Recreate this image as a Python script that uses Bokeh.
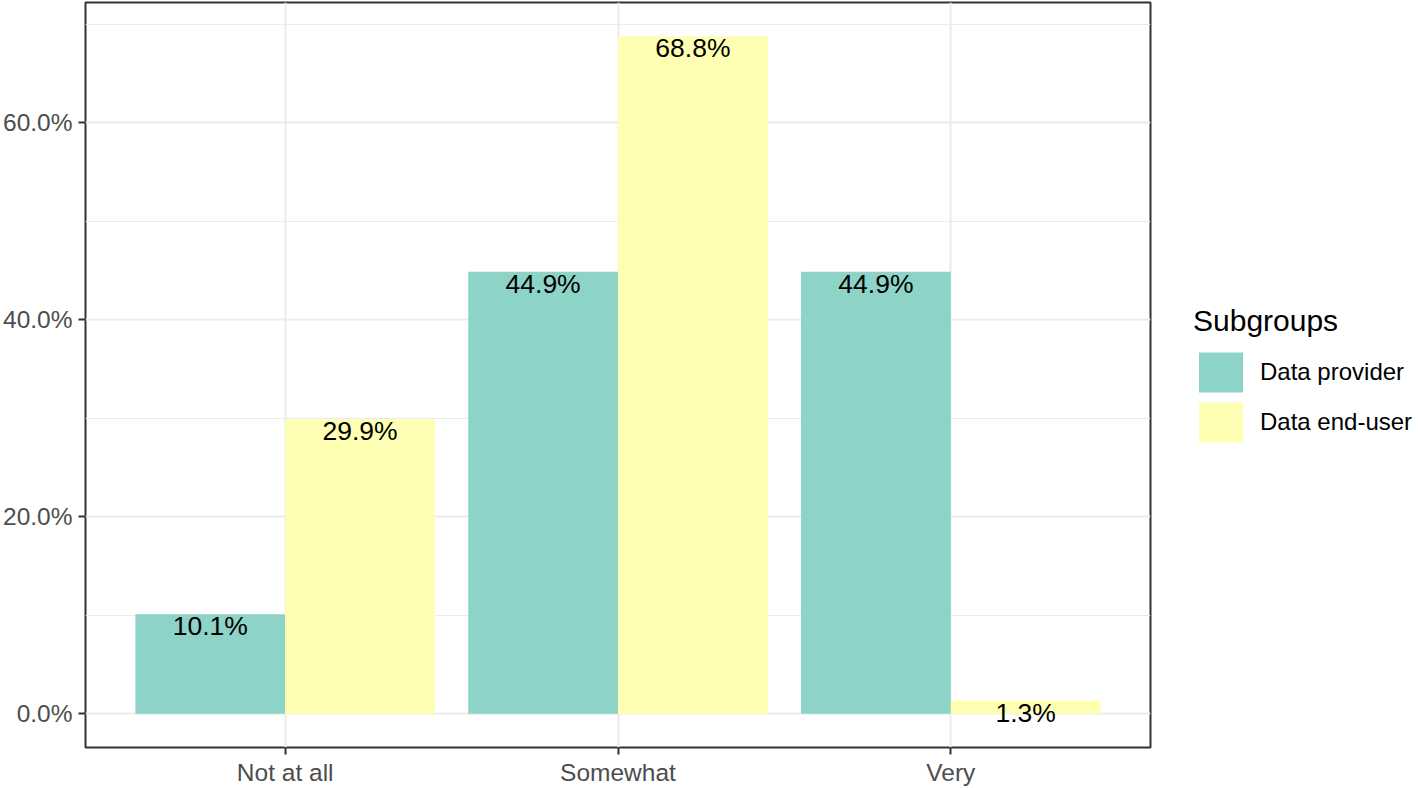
from bokeh.plotting import figure
from bokeh.layouts import row
from bokeh.models import (FactorRange, Range1d, FixedTicker, PrintfTickFormatter,
                          ColumnDataSource, Legend, LegendItem)
from bokeh.transform import dodge
from bokeh.core.properties import value
from bokeh.embed import file_html
from bokeh.resources import INLINE

categories = ["Not at all", "Somewhat", "Very"]
provider = [10.1, 44.9, 44.9]
end_user = [29.9, 68.8, 1.3]
series_names = ["Data provider", "Data end-user"]
colors = ["#8DD3C7", "#FFFFB3"]
y_ticks = [0, 20, 40, 60]
y_minor = [10, 30, 50, 70]

FONT = "Liberation Sans"

src = ColumnDataSource(dict(
    cat=categories,
    provider=provider,
    end_user=end_user,
    provider_lab=[f"{v:.1f}%" for v in provider],
    end_user_lab=[f"{v:.1f}%" for v in end_user],
))

ymax = max(provider + end_user)
pad = ymax * 0.05

FW, FH = 1065, 745
TOP, BOTTOM = 2, 39
p = figure(
    x_range=FactorRange(*categories, range_padding=0.1, range_padding_units="absolute"),
    y_range=Range1d(-pad, ymax + pad),
    frame_width=FW, frame_height=FH,
    min_border_left=82, min_border_right=2, min_border_top=TOP, min_border_bottom=BOTTOM,
    output_backend="svg", toolbar_location=None,
    background_fill_color="white", border_fill_color="white",
)

bw = 0.45
p.vbar(x=dodge("cat", -bw / 2, range=p.x_range), top="provider", width=bw,
       source=src, fill_color=colors[0], line_color=None)
p.vbar(x=dodge("cat", bw / 2, range=p.x_range), top="end_user", width=bw,
       source=src, fill_color=colors[1], line_color=None)

for col, off in (("provider", -bw / 2), ("end_user", bw / 2)):
    p.text(x=dodge("cat", off, range=p.x_range), y=col, text=col + "_lab", source=src,
           text_align="center", text_baseline="top", y_offset=-3,
           text_font=value(FONT), text_font_size="26.5px", text_color="black")

# grids
p.ygrid.ticker = FixedTicker(ticks=y_ticks, minor_ticks=y_minor)
p.ygrid.grid_line_color = "#EBEBEB"
p.ygrid.grid_line_width = 2
p.ygrid.minor_grid_line_color = "#EBEBEB"
p.ygrid.minor_grid_line_width = 1
p.xgrid.grid_line_color = "#EBEBEB"
p.xgrid.grid_line_width = 2

# axes
p.yaxis.ticker = FixedTicker(ticks=y_ticks)
p.yaxis.formatter = PrintfTickFormatter(format="%.1f%%")
for ax in (p.xaxis[0], p.yaxis[0]):
    ax.axis_line_color = None
    ax.major_tick_line_color = "#333333"
    ax.major_tick_line_width = 2
    ax.major_tick_out = 7
    ax.major_tick_in = 0
    ax.minor_tick_line_color = None
    ax.major_label_text_font = FONT
    ax.major_label_text_font_size = "24.5px"
    ax.major_label_text_color = "#4D4D4D"
p.yaxis.major_label_standoff = 6
p.xaxis.major_label_standoff = 4

p.outline_line_color = "#333333"
p.outline_line_width = 2

# legend figure placed to the right of the panel
LW = 262
LH = FH + TOP + BOTTOM
q = figure(width=LW, height=LH, x_range=Range1d(0, 1), y_range=Range1d(0, 1),
           min_border=0, output_backend="svg", toolbar_location=None,
           outline_line_color=None, background_fill_color="white",
           border_fill_color="white")
q.axis.visible = False
q.grid.visible = False
# zero-height key carriers (draw nothing themselves)
k1 = q.vbar(x=[0.5], top=[0], width=0.1, fill_color=colors[0], line_color=None)
k2 = q.vbar(x=[0.5], top=[0], width=0.1, fill_color=colors[1], line_color=None)

legend = Legend(
    items=[LegendItem(label=series_names[0], renderers=[k1]),
           LegendItem(label=series_names[1], renderers=[k2])],
    title="Subgroups", location=(41, LH - 443 - 45),
    title_text_font=FONT, title_text_font_size="30px", title_text_color="black",
    title_text_font_style="normal", title_standoff=9,
    label_text_font=FONT, label_text_font_size="24px", label_text_color="black",
    glyph_width=55, glyph_height=50, label_height=50, spacing=0, label_standoff=12,
    border_line_color=None, background_fill_alpha=0, margin=0, padding=0,
)
q.add_layout(legend)

layout = row(p, q, spacing=0)
open("out.html", "w").write(file_html(layout, INLINE))
